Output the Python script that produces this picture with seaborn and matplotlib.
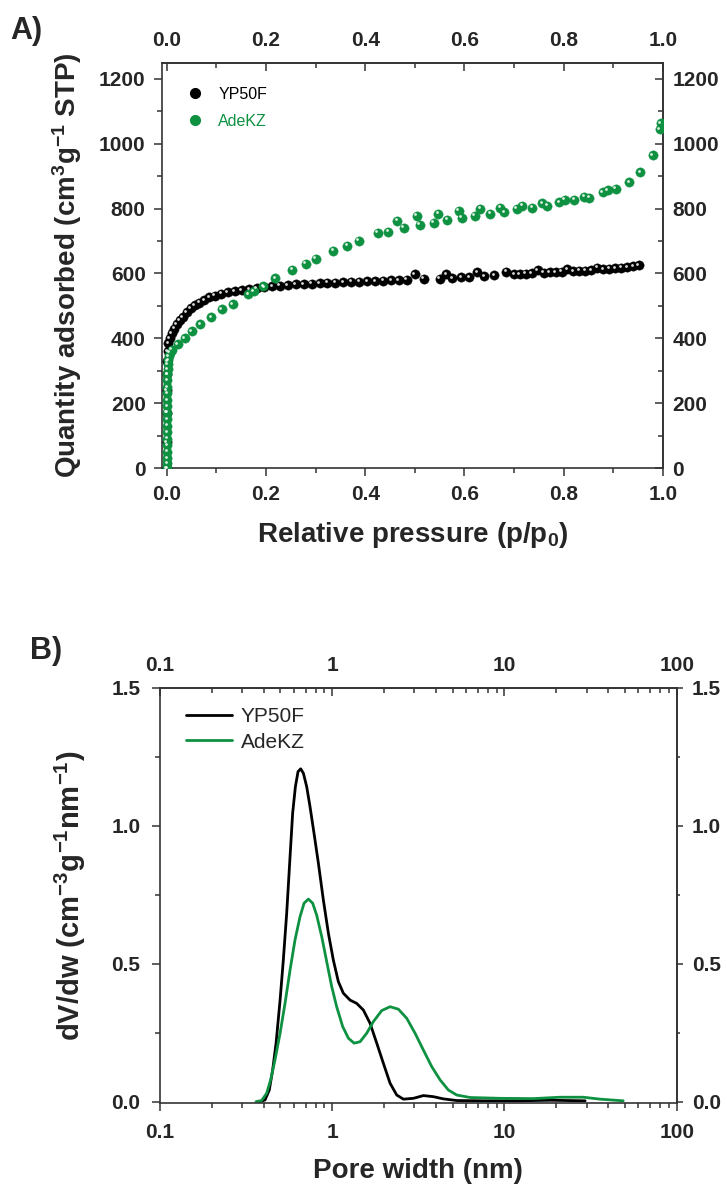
import matplotlib
matplotlib.use("Agg")
import matplotlib.pyplot as plt
import matplotlib.transforms as mtransforms
from matplotlib.lines import Line2D
from matplotlib.ticker import (MultipleLocator, LogLocator, NullFormatter, FixedLocator,
                               FixedFormatter, FormatStrFormatter)
import seaborn as sns
import numpy as np

# --- panel A: N2 isotherms (relative pressure, quantity adsorbed) ---
yp_p = [0.0000, 0.0000, 0.0001, 0.0002, 0.0004, 0.0008, 0.0015, 0.003, 0.006, 0.010,
        0.015, 0.020, 0.026, 0.032, 0.040, 0.048, 0.056, 0.065, 0.075, 0.086,
        0.097, 0.110, 0.123, 0.137, 0.151, 0.166, 0.181, 0.196, 0.212, 0.228,
        0.244, 0.260, 0.276, 0.292, 0.308, 0.324, 0.340, 0.356, 0.372, 0.388,
        0.404, 0.420, 0.436, 0.452, 0.468, 0.484, 0.500, 0.518, 0.550, 0.564,
        0.576, 0.594, 0.610, 0.626, 0.640, 0.660, 0.684, 0.700, 0.712, 0.724,
        0.736, 0.748, 0.760, 0.772, 0.784, 0.796, 0.808, 0.820, 0.832, 0.844,
        0.856, 0.868, 0.880, 0.892, 0.904, 0.916, 0.928, 0.940, 0.952]
yp_q = [0, 80, 170, 240, 290, 330, 360, 385, 400, 415,
        430, 443, 455, 466, 480, 492, 502, 510, 518, 526,
        531, 537, 542, 546, 549, 552, 555, 557, 560, 562,
        564, 566, 567, 569, 570, 571, 572, 573, 574, 575,
        576, 577, 578, 579, 580, 581, 598, 584, 584, 598,
        586, 588, 588, 604, 592, 594, 606, 597, 598, 599,
        600, 610, 602, 603, 604, 605, 614, 607, 608, 609,
        610, 618, 613, 615, 616, 618, 620, 622, 625]

ade_p = [0.001, 0.001, 0.001, 0.001, 0.001, 0.001, 0.001, 0.001, 0.001, 0.001,
         0.001, 0.001, 0.001, 0.001, 0.001, 0.001, 0.002, 0.002, 0.003, 0.004,
         0.006, 0.010, 0.022, 0.036, 0.050, 0.067, 0.090, 0.111, 0.133, 0.164,
         0.175, 0.195, 0.219, 0.253, 0.280, 0.300, 0.336, 0.364, 0.387, 0.425,
         0.447, 0.465, 0.478, 0.504, 0.510, 0.538, 0.547, 0.565, 0.589, 0.595,
         0.621, 0.632, 0.652, 0.672, 0.680, 0.706, 0.717, 0.737, 0.757, 0.767,
         0.791, 0.802, 0.822, 0.842, 0.852, 0.879, 0.889, 0.905, 0.933, 0.955,
         0.980, 0.994, 0.996]
ade_q = [0, 15, 30, 50, 70, 90, 110, 130, 150, 170,
         190, 210, 230, 250, 270, 290, 305, 320, 333, 345,
         355, 365, 381, 400, 422, 443, 465, 490, 505, 536,
         546, 561, 586, 611, 630, 645, 670, 685, 701, 726,
         729, 763, 741, 778, 750, 757, 784, 766, 794, 772,
         778, 800, 784, 803, 788, 800, 809, 803, 816, 809,
         819, 828, 828, 837, 834, 850, 856, 862, 881, 912,
         964, 1045, 1064]

# --- panel B: pore size distribution (pore width nm, dV/dw) ---
yp_w = [0.381, 0.407, 0.431, 0.451, 0.472, 0.498, 0.520, 0.544, 0.569, 0.589,
        0.611, 0.633, 0.656, 0.680, 0.711, 0.743, 0.784, 0.831, 0.888, 0.950,
        1.015, 1.085, 1.160, 1.269, 1.387, 1.516, 1.658, 1.813, 1.981, 2.166,
        2.368, 2.589, 2.960, 3.382, 3.867, 4.420, 5.283, 7.546, 11.79, 18.40, 29.4]
yp_v = [0.000, 0.006, 0.042, 0.115, 0.212, 0.368, 0.513, 0.683, 0.888, 1.045,
        1.141, 1.196, 1.206, 1.190, 1.141, 1.069, 0.972, 0.864, 0.731, 0.610,
        0.513, 0.435, 0.393, 0.368, 0.356, 0.332, 0.284, 0.212, 0.139, 0.067,
        0.024, 0.009, 0.012, 0.022, 0.018, 0.010, 0.004, 0.003, 0.003, 0.005, 0.003]

ade_w = [0.361, 0.389, 0.416, 0.439, 0.465, 0.498, 0.532, 0.569, 0.608, 0.650,
         0.686, 0.727, 0.770, 0.812, 0.869, 0.929, 0.993, 1.061, 1.150, 1.241,
         1.339, 1.450, 1.586, 1.733, 1.938, 2.166, 2.422, 2.707, 3.026, 3.382,
         3.781, 4.227, 4.725, 5.283, 6.314, 9.428, 14.72, 21.03, 28.73, 35.92, 48.9]
ade_v = [0.000, 0.004, 0.030, 0.079, 0.151, 0.248, 0.356, 0.477, 0.586, 0.670,
         0.719, 0.734, 0.719, 0.676, 0.598, 0.507, 0.417, 0.344, 0.272, 0.230,
         0.212, 0.217, 0.248, 0.290, 0.330, 0.344, 0.335, 0.302, 0.248, 0.187,
         0.127, 0.079, 0.042, 0.024, 0.015, 0.012, 0.011, 0.016, 0.016, 0.009, 0.003]

# tick positions / labels
p_ticks = [0.0, 0.2, 0.4, 0.6, 0.8, 1.0]
p_minor = [0.1, 0.3, 0.5, 0.7, 0.9]
q_ticks = [0, 200, 400, 600, 800, 1000, 1200]
q_minor = [100, 300, 500, 700, 900, 1100]
w_ticks = [0.1, 1, 10, 100]
w_labels = ["0.1", "1", "10", "100"]
v_ticks = [0.0, 0.5, 1.0, 1.5]
v_minor = [0.25, 0.75, 1.25]

GREEN = "#0e9140"
FRAME = "#333333"

sns.set_style("ticks")
plt.rcParams["font.family"] = ["Liberation Sans", "DejaVu Sans"]
plt.rcParams["mathtext.fontset"] = "custom"
plt.rcParams["mathtext.rm"] = "Liberation Sans:bold"
plt.rcParams["mathtext.it"] = "Liberation Sans:bold"
plt.rcParams["mathtext.bf"] = "Liberation Sans:bold"
plt.rcParams["mathtext.default"] = "rm"

TICK_FS = 15
LABEL_FS = 20

fig = plt.figure(figsize=(7.27, 11.85), dpi=100)
axA = fig.add_axes([162.3 / 727, 1 - 468 / 1185, (662.7 - 162.3) / 727, (468 - 62.7) / 1185])
axB = fig.add_axes([160 / 727, 1 - 1103.3 / 1185, (676.7 - 160) / 727, (1103.3 - 687.7) / 1185])


def style_frame(ax):
    for s in ax.spines.values():
        s.set_color(FRAME)
        s.set_linewidth(1.2)


def set_ticks(ax, direction, major_len, minor_len, pad):
    ax.tick_params(which="major", direction=direction, length=major_len, width=1.1,
                   color=FRAME, labelsize=TICK_FS, pad=pad)
    ax.tick_params(which="minor", direction=direction, length=minor_len, width=1.1,
                   color=FRAME)


def bold_labels(labels):
    for lab in labels:
        lab.set_fontweight("bold")


def fixed_x(axis, major, minor, fmt=None, labels=None):
    axis.set_major_locator(FixedLocator(major))
    if labels is not None:
        axis.set_major_formatter(FixedFormatter(labels))
    elif fmt is not None:
        axis.set_major_formatter(FormatStrFormatter(fmt))
    if minor is None:
        axis.set_minor_locator(LogLocator(base=10, subs=np.arange(2, 10)))
    else:
        axis.set_minor_locator(FixedLocator(minor))
    axis.set_minor_formatter(NullFormatter())


def sphere(ax, x, y, color):
    sns.scatterplot(x=x, y=y, ax=ax, color=color, s=45, edgecolor=color,
                    linewidth=0.3, zorder=3, legend=False)
    # small glossy highlight, like the original sphere symbols
    off = mtransforms.ScaledTranslation(-1.4 / 100, 1.4 / 100, fig.dpi_scale_trans)
    ax.scatter(x, y, s=4, color="white", alpha=0.85, linewidths=0,
               transform=ax.transData + off, zorder=4)


# ---------------- panel A ----------------
sphere(axA, yp_p, yp_q, "black")
sphere(axA, ade_p, ade_q, GREEN)
axA.set_xlim(-0.009, 1.0)
axA.set_ylim(0, 1250)
fixed_x(axA.xaxis, p_ticks, p_minor, fmt="%.1f")
fixed_x(axA.yaxis, q_ticks, q_minor, fmt="%d")
set_ticks(axA, "out", 6, 3.5, 6)
style_frame(axA)
bold_labels(axA.get_xticklabels() + axA.get_yticklabels())

topA = axA.secondary_xaxis("top")
fixed_x(topA.xaxis, p_ticks, p_minor, fmt="%.1f")
set_ticks(topA, "in", 6, 3.5, 9)
rightA = axA.secondary_yaxis("right")
fixed_x(rightA.yaxis, q_ticks, q_minor, fmt="%d")
set_ticks(rightA, "in", 6, 3.5, 7)
for sec in (topA, rightA):
    style_frame(sec)
bold_labels(topA.get_xticklabels() + rightA.get_yticklabels())

axA.set_xlabel("Relative pressure (p/p$_0$)", fontsize=LABEL_FS, fontweight="bold")
axA.set_ylabel("Quantity adsorbed (cm$^3$g$^{-1}$ STP)", fontsize=LABEL_FS, fontweight="bold")
axA.xaxis.set_label_coords(0.5, -0.128)
axA.yaxis.set_label_coords(-0.156, 0.5)

hA = [Line2D([], [], ls="", marker="o", color="black", markersize=7),
      Line2D([], [], ls="", marker="o", color=GREEN, markersize=7)]
axA.legend(hA, ["YP50F", "AdeKZ"], loc="upper left", bbox_to_anchor=(0.0368, 0.957),
           borderaxespad=0, frameon=False, fontsize=11.5, handlelength=1.0,
           handletextpad=0.95, labelspacing=0.76, labelcolor=["black", GREEN])

# ---------------- panel B ----------------
sns.lineplot(x=yp_w, y=yp_v, ax=axB, color="black", lw=2.0, sort=False,
             label="YP50F", estimator=None)
sns.lineplot(x=ade_w, y=ade_v, ax=axB, color=GREEN, lw=2.0, sort=False,
             label="AdeKZ", estimator=None)
axB.set_xscale("log")
axB.set_xlim(0.1, 100)
axB.set_ylim(-0.006, 1.5)
fixed_x(axB.xaxis, w_ticks, None, labels=w_labels)
fixed_x(axB.yaxis, v_ticks, v_minor, fmt="%.1f")
set_ticks(axB, "out", 6, 3.5, 8)
style_frame(axB)
bold_labels(axB.get_xticklabels() + axB.get_yticklabels())

topB = axB.secondary_xaxis("top")
fixed_x(topB.xaxis, w_ticks, None, labels=w_labels)
set_ticks(topB, "in", 6, 3.5, 9)
rightB = axB.secondary_yaxis("right")
fixed_x(rightB.yaxis, v_ticks, v_minor, fmt="%.1f")
set_ticks(rightB, "out", 4, 2.5, 7)
for sec in (topB, rightB):
    style_frame(sec)
bold_labels(topB.get_xticklabels() + rightB.get_yticklabels())

axB.set_xlabel("Pore width (nm)", fontsize=LABEL_FS, fontweight="bold")
axB.set_ylabel("dV/dw (cm$^{-3}$g$^{-1}$nm$^{-1}$)", fontsize=21, fontweight="bold")
axB.xaxis.set_label_coords(0.5, -0.132)
axB.yaxis.set_label_coords(-0.139, 0.5)
axB.legend(loc="upper left", bbox_to_anchor=(0.0335, 0.973), borderaxespad=0,
           frameon=False, fontsize=15, handlelength=2.24, handletextpad=0.41,
           labelspacing=0.3)

fig.text(10 / 727, 1 - 31 / 1185, "A)", fontsize=22, fontweight="bold", va="center")
fig.text(30 / 727, 1 - 651 / 1185, "B)", fontsize=22, fontweight="bold", va="center")

fig.savefig("out.png", dpi=100)
